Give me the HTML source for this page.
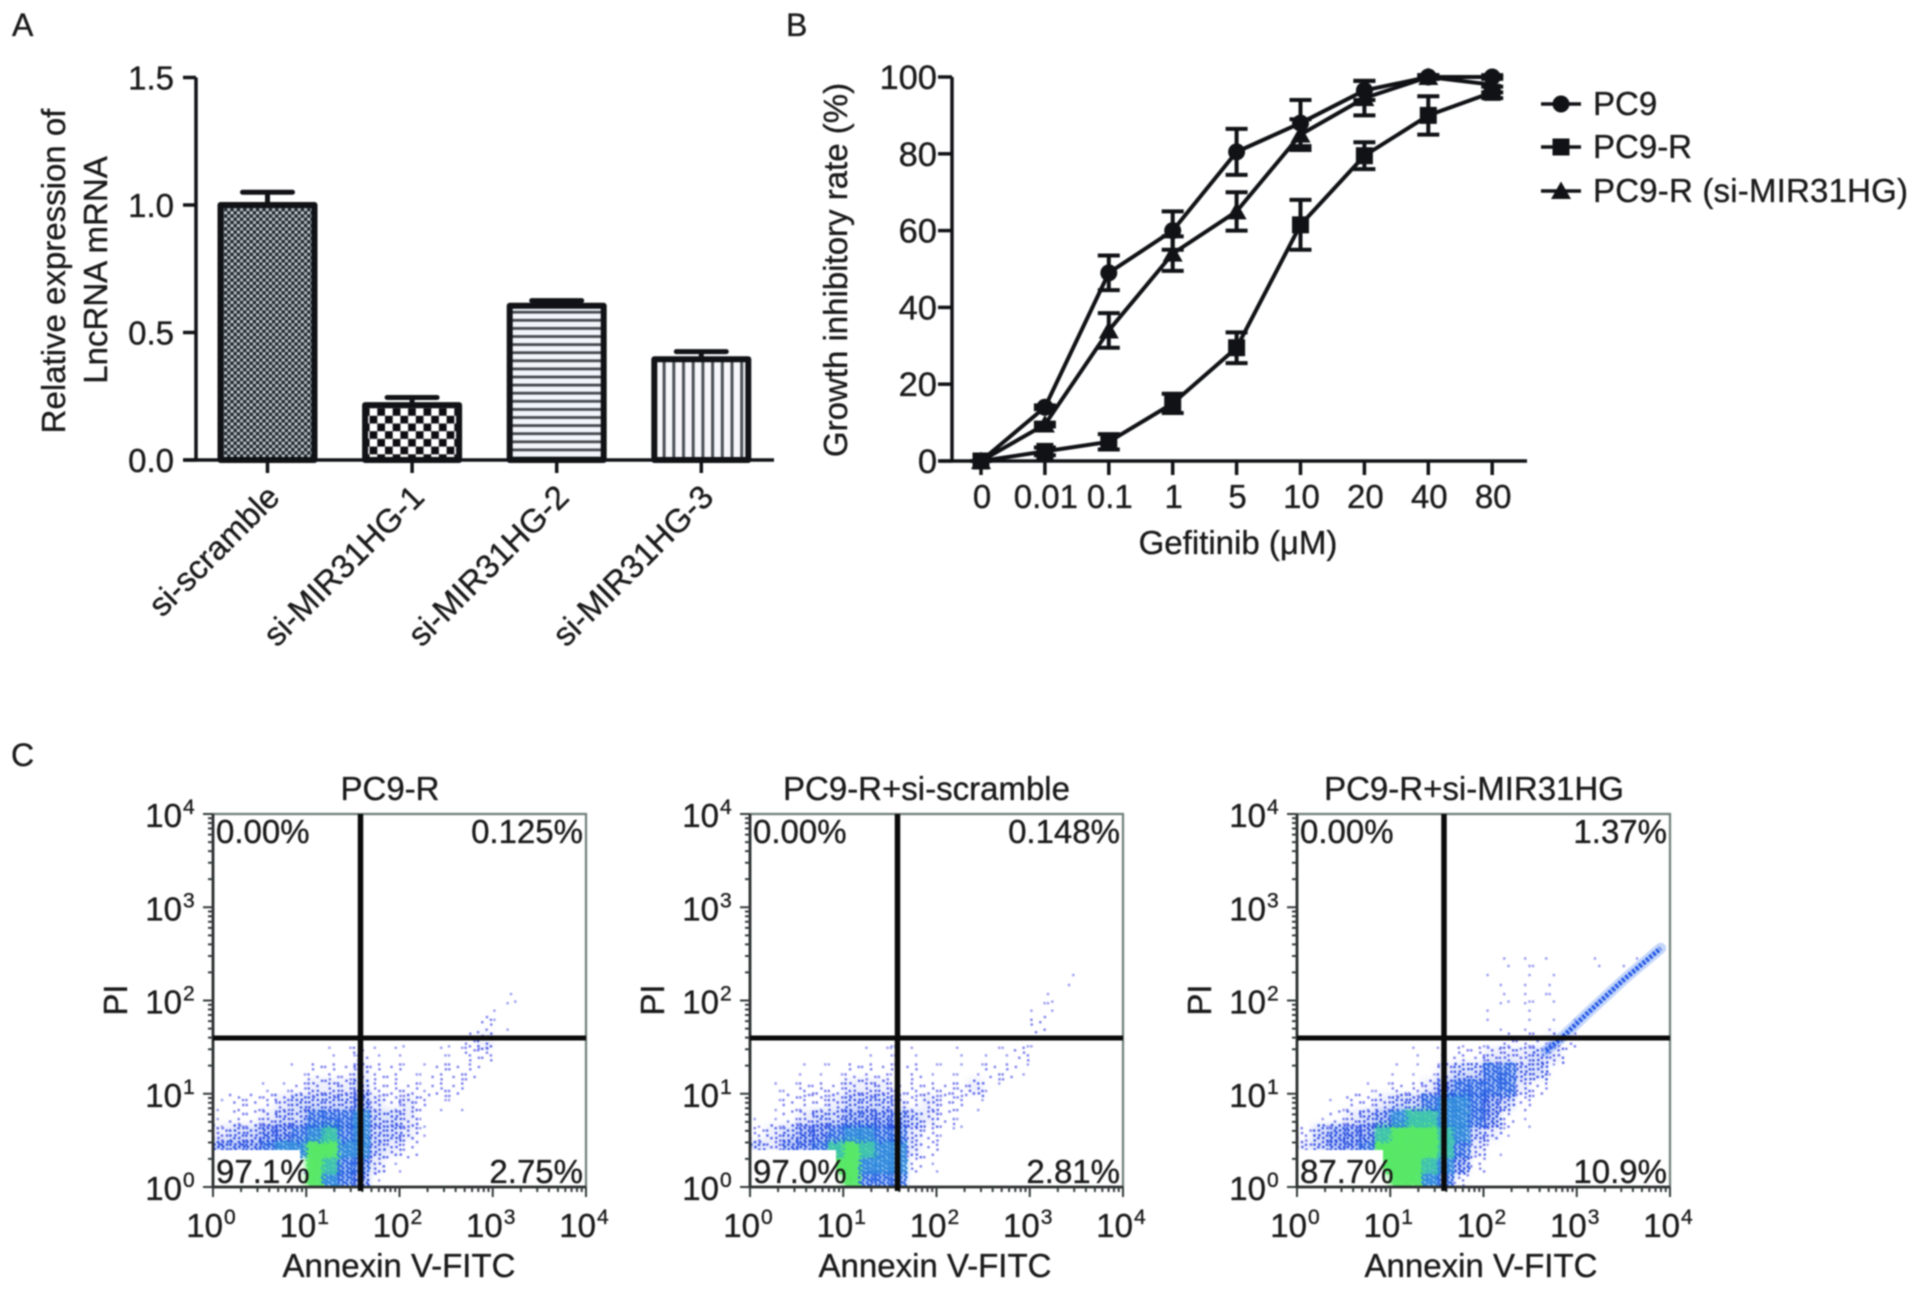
<!DOCTYPE html>
<html lang="en">
<head>
<meta charset="utf-8">
<title>Panels A, B and C</title>
<style>
html,body{margin:0;padding:0;background:#fff;width:1918px;height:1289px;overflow:hidden}
svg{display:block;filter:blur(.7px)}
text{font-family:"Liberation Sans",Arial,sans-serif;font-size:33px;fill:#1a1a1a;stroke:#1a1a1a;stroke-width:.35px}
</style>
</head>
<body>
<svg id="fig" xmlns="http://www.w3.org/2000/svg" width="1918" height="1289" viewBox="0 0 1918 1289">
<defs>
<filter id="soft-density" x="-10%" y="-10%" width="120%" height="120%"><feGaussianBlur stdDeviation="3.5"/></filter>
<pattern id="hatch-dots" patternUnits="userSpaceOnUse" width="6.4" height="6.4">
<rect width="6.4" height="6.4" fill="#535e64"/>
<circle cx="1.6" cy="1.6" r="1.4" fill="#d0d8da"/>
<circle cx="4.8" cy="4.8" r="1.4" fill="#c0c9cb"/>
<circle cx="4.8" cy="1.6" r="1.3" fill="#12181c"/>
<circle cx="1.6" cy="4.8" r="1.3" fill="#12181c"/>
</pattern>
<pattern id="hatch-check" patternUnits="userSpaceOnUse" width="15.4" height="15.4">
<rect width="15.4" height="15.4" fill="#fff"/>
<rect x="0" y="0" width="7.7" height="7.7" fill="#0e0e12"/>
<rect x="7.7" y="7.7" width="7.7" height="7.7" fill="#0e0e12"/>
</pattern>
<pattern id="hatch-horizontal" patternUnits="userSpaceOnUse" width="8" height="8.1">
<rect width="8" height="8.1" fill="#f2f5fa"/>
<rect y="3" width="8" height="2.8" fill="#454a50"/>
</pattern>
<pattern id="hatch-vertical" patternUnits="userSpaceOnUse" width="9.7" height="8">
<rect width="9.7" height="8" fill="#f5f7fa"/>
<rect x="3" width="3" height="8" fill="#4a4f56"/>
</pattern>
</defs>
<rect width="1918" height="1289" fill="#fff"/>

<text x="12" y="36" style="font-size:32px">A</text>
<text x="786" y="36" style="font-size:32px">B</text>
<text x="11" y="766" style="font-size:32px">C</text>

<g id="chartA">
<text transform="translate(65,271) rotate(-90)" text-anchor="middle">Relative expression of</text>
<text transform="translate(107,270) rotate(-90)" text-anchor="middle">LncRNA mRNA</text>
</g>

<g id="chartB">
<text transform="translate(847,270) rotate(-90)" text-anchor="middle">Growth inhibitory rate (%)</text>
<text x="1238" y="554" text-anchor="middle">Gefitinib (μM)</text>
</g>

<g id="chartC"></g>
</svg>

<script>
/* Panel A data */
const barCategories = ['si-scramble', 'si-MIR31HG-1', 'si-MIR31HG-2', 'si-MIR31HG-3'];
const barValues = [1.0, 0.215, 0.605, 0.395];
const barErrors = [0.05, 0.03, 0.02, 0.03];
const barTickLabels = ['0.0', '0.5', '1.0', '1.5'];
const barTickValues = [0, 0.5, 1.0, 1.5];
const barFills = ['hatch-dots', 'hatch-check', 'hatch-horizontal', 'hatch-vertical'];

/* Panel B data */
const doseLabels = ['0', '0.01', '0.1', '1', '5', '10', '20', '40', '80'];
const growthTicks = [0, 20, 40, 60, 80, 100];
const pc9Values = [0, 14, 49, 60, 80.5, 88, 96.5, 100, 100];
const pc9Errors = [0, 0.5, 4.5, 5, 6, 6, 2.5, 0.5, 0.5];
const pc9rValues = [0, 2.5, 5, 15, 29.5, 61.5, 79.5, 90, 96];
const pc9rErrors = [0, 1, 2, 2.5, 4, 6.5, 3.5, 5, 1.5];
const pc9rSiValues = [0, 9.5, 34, 54, 65, 85, 94.5, 100, 98];
const pc9rSiErrors = [0, 0.5, 4.5, 4.5, 5, 4, 4.5, 0.5, 2];
const legendLabels = ['PC9', 'PC9-R', 'PC9-R (si-MIR31HG)'];

/* Panel C data: density read per cell, rows start at the bottom, 6 cells per decade */
const panelTitles = ['PC9-R', 'PC9-R+si-scramble', 'PC9-R+si-MIR31HG'];
const decadeExponents = [0, 1, 2, 3, 4];
const quadrantUL = ['0.00%', '0.00%', '0.00%'];
const quadrantUR = ['0.125%', '0.148%', '1.37%'];
const quadrantLL = ['97.1%', '97.0%', '87.7%'];
const quadrantLR = ['2.75%', '2.81%', '10.9%'];
const densityPC9R = [
  [0,0,0,0,0,1,9,7,6,5,1],
  [0,0,0,0,0,0,9,8,6,6,3,1],
  [5,5,5,6,7,7,9,9,7,7,4,3,2],
  [3,4,4,5,5,6,7,8,6,7,4,4,3,1],
  [1,2,2,3,4,4,6,6,6,7,4,4,3,1],
  [1,2,2,2,3,4,4,4,4,5,3,2,3,2,1,1],
  [0,0,0,1,1,2,3,3,3,4,2,2,2,1,2,2],
  [0,0,0,0,0,1,2,2,2,3,2,2,1,1,2,2,2],
  [0,0,0,0,0,0,0,1,1,2,1,1,0,0,1,1,2,2],
  [0,0,0,0,0,0,0,0,0,0,0,0,1,0,0,1,2,3],
  [0,0,0,0,0,0,0,0,0,0,0,0,0,0,0,0,0,2,1],
  [0,0,0,0,0,0,0,0,0,0,0,0,0,0,0,0,0,0,1],
  [0,0,0,0,0,0,0,0,0,0,0,0,0,0,0,0,0,0,0,1]
];
const densityScramble = [
  [0,0,0,0,0,0,9,6,6,6],
  [0,0,0,0,0,9,9,7,7,7,2,1],
  [4,3,5,5,6,8,9,8,7,7,3,2],
  [2,3,4,5,5,6,7,7,6,6,3,2,1],
  [1,1,2,3,4,4,5,5,5,5,4,3,2,1],
  [0,1,2,2,2,3,4,4,4,3,2,3,2,2,1],
  [0,1,1,2,2,2,3,3,3,2,2,2,2,2,3,1],
  [0,0,0,1,1,1,2,2,2,1,2,1,1,1,1,2,2,1],
  [0,0,0,0,0,0,0,1,1,1,1,0,0,1,0,1,1,2],
  [0,0,0,0,0,0,0,0,1,1,0,0,0,0,0,0,0,1,1],
  [0,0,0,0,0,0,0,0,0,0,0,0,0,0,0,0,0,0,2],
  [0,0,0,0,0,0,0,0,0,0,0,0,0,0,0,0,0,0,1,1],
  [0,0,0,0,0,0,0,0,0,0,0,0,0,0,0,0,0,0,0,1],
  [0,0,0,0,0,0,0,0,0,0,0,0,0,0,0,0,0,0,0,0,1]
];
const densityKnockdown = [
  [0,0,0,0,0,0,9,9,7,6,2],
  [0,0,0,0,0,9,9,9,8,7,5,2],
  [3,4,5,5,6,9,9,9,9,8,6,3,1],
  [2,4,5,5,5,8,9,9,9,8,7,4,3,1],
  [0,1,2,3,4,5,7,8,8,7,7,6,5,2,1],
  [0,0,1,2,2,3,4,4,6,7,7,6,5,4,2],
  [0,0,0,0,1,1,2,2,3,5,6,6,6,6,3,2],
  [0,0,0,0,0,0,1,1,1,3,4,4,6,6,4,4,1],
  [0,0,0,0,0,0,0,1,0,1,2,2,3,3,3,4,3],
  [0,0,0,0,0,0,0,0,0,0,1,1,1,2,2,2,3,2],
  [0,0,0,0,0,0,0,0,0,0,0,0,1,0,1,0,1,1],
  [0,0,0,0,0,0,0,0,0,0,0,0,1,0,1],
  [0,0,0,0,0,0,0,0,0,0,0,0,0,1,1,1,1],
  [0,0,0,0,0,0,0,0,0,0,0,0,1,0,1,0,1],
  [0,0,0,0,0,0,0,0,0,0,0,0,0,1,1,1,0,0,0,1,0,1]
];
const panelDensities = [densityPC9R, densityScramble, densityKnockdown];
/* Narrow double-positive band in the knockdown panel, in decades */
const bandDecadeX = [2.67, 2.85, 3.1, 3.5, 3.9];
const bandDecadeY = [1.46, 1.61, 1.85, 2.22, 2.56];

const NS = 'http://www.w3.org/2000/svg';
function mk(parent, tag, attrs, text) {
  const el = document.createElementNS(NS, tag);
  for (const k in attrs) el.setAttribute(k, attrs[k]);
  if (text !== undefined) el.textContent = text;
  parent.appendChild(el);
  return el;
}
const INK = '#101215';

/* ---------- Panel A ---------- */
const gA = document.getElementById('chartA');
const yA = v => 460 - v * 255;
const xA = i => 267.5 + 144.6 * i;
const barHalf = 50;

barCategories.forEach((name, i) => {
  const left = xA(i) - barHalf + 3;
  const w = 2 * barHalf - 6;
  const top = yA(barValues[i]);
  const bar = mk(gA, 'rect', {x: left, y: top, width: w, height: yA(0) - top, fill: 'url(#' + barFills[i] + ')', stroke: INK, 'stroke-width': 6, 'stroke-linejoin': 'round'});
  
  
  const capY = yA(barValues[i] + barErrors[i]);
  const err = mk(gA, 'path', {d: 'M' + xA(i) + ' ' + top + 'V' + capY + 'M' + (xA(i) - 25) + ' ' + capY + 'H' + (xA(i) + 25), fill: 'none', stroke: INK, 'stroke-width': 5, 'stroke-linecap': 'round'});
  
  
  const tick = mk(gA, 'line', {x1: xA(i), x2: xA(i), y1: yA(0), y2: 473, stroke: INK, 'stroke-width': 3.5});
  
  
  const label = mk(gA, 'text', {transform: 'translate(' + (xA(i) + 14) + ',499) rotate(-45)', 'text-anchor': 'end'}, name);
  
  
});
const axisAy = mk(gA, 'path', {d: 'M196 ' + yA(1.5) + 'V' + yA(0) + 'M184 ' + yA(0) + 'H774', fill: 'none', stroke: INK, 'stroke-width': 3.5});


barTickValues.forEach((v, i) => {
  const t = mk(gA, 'line', {x1: 183, x2: 196, y1: yA(v), y2: yA(v), stroke: INK, 'stroke-width': 3.5});
  
  
  const l = mk(gA, 'text', {x: 174, y: yA(v) + 12, 'text-anchor': 'end'}, barTickLabels[i]);
  
  
});

/* ---------- Panel B ---------- */
const gB = document.getElementById('chartB');
const yB = v => 461 - 3.84 * v;
const xB = i => 981 + 63.9 * i;

function marker(parent, kind, x, y) {
  let el;
  if (kind === 'circle') {
    el = mk(parent, 'circle', {cx: x, cy: y, r: 8.5, fill: INK});
  } else if (kind === 'square') {
    el = mk(parent, 'rect', {x: x - 8.5, y: y - 8.5, width: 17, height: 17, fill: INK});
  } else {
    el = mk(parent, 'path', {d: 'M' + x + ' ' + (y - 9.5) + 'L' + (x + 10) + ' ' + (y + 8) + 'H' + (x - 10) + 'Z', fill: INK});
  }
  return el;
}
function drawSeries(name, kind, values, errors) {
  const g = mk(gB, 'g', {});
  
  
  const line = mk(g, 'polyline', {points: values.map((v, i) => xB(i) + ',' + yB(v)).join(' '), fill: 'none', stroke: INK, 'stroke-width': 4, 'stroke-linejoin': 'round'});
  
  
  values.forEach((v, i) => {
    const up = yB(Math.min(v + errors[i], 101));
    const dn = yB(v - errors[i]);
    const e = mk(g, 'path', {d: 'M' + xB(i) + ' ' + up + 'V' + dn + 'M' + (xB(i) - 11) + ' ' + up + 'H' + (xB(i) + 11) + 'M' + (xB(i) - 11) + ' ' + dn + 'H' + (xB(i) + 11), fill: 'none', stroke: INK, 'stroke-width': 4});
    
    
    const m = marker(g, kind, xB(i), yB(v));
    
    
  });
}
drawSeries('pc9-r-si', 'triangle', pc9rSiValues, pc9rSiErrors);
drawSeries('pc9-r', 'square', pc9rValues, pc9rErrors);
drawSeries('pc9', 'circle', pc9Values, pc9Errors);

const axisB = mk(gB, 'path', {d: 'M952 ' + yB(100) + 'V' + yB(0) + 'M940 ' + yB(0) + 'H1527', fill: 'none', stroke: INK, 'stroke-width': 3.5});


growthTicks.forEach(v => {
  const t = mk(gB, 'line', {x1: 938, x2: 952, y1: yB(v), y2: yB(v), stroke: INK, 'stroke-width': 3.5});
  
  
  const l = mk(gB, 'text', {x: 937, y: yB(v) + 12, 'text-anchor': 'end', style: 'font-size:34.5px'}, String(v));
  
  
});
doseLabels.forEach((s, i) => {
  const t = mk(gB, 'line', {x1: xB(i), x2: xB(i), y1: yB(0), y2: 475, stroke: INK, 'stroke-width': 3.5});
  
  
  const l = mk(gB, 'text', {x: xB(i) + 1, y: 508, 'text-anchor': 'middle'}, s);
  
  
});
const legendKinds = ['circle', 'square', 'triangle'];
const legendRows = [104, 147, 191];
legendLabels.forEach((s, i) => {
  const g = mk(gB, 'g', {});
  
  
  const ln = mk(g, 'line', {x1: 1541, x2: 1581, y1: legendRows[i], y2: legendRows[i], stroke: INK, 'stroke-width': 3.5});
  
  
  const m = marker(g, legendKinds[i], 1561, legendRows[i]);
  
  
  const t = mk(g, 'text', {x: 1593, y: legendRows[i] + 11, textLength: i === 2 ? 315 : null}, s);
  if (i !== 2) t.removeAttribute('textLength');
  
  
});

/* ---------- Panel C ---------- */
const gC = document.getElementById('chartC');
const plotTop = 814, plotBottom = 1187, plotSize = 373;
const decade = plotSize / 4;
const lefts = [213, 750, 1297];
const vlines = [360.5, 897.5, 1444];
const titleCenters = [390, 926.5, 1474];
const annexinCenters = [400, 936, 1482];
const boxRights = [300, 836, 1383];
const hlineY = 1038;
const cell = plotSize / 24;
const dotCounts = [0, 2, 6, 10, 15, 22, 30, 36, 40, 44];
const dotColors = ['', '#9a9cf2', '#7c80ee', '#5c68ea', '#3f58e6', '#2c50e0', '#2a62e2', '#2f86dc', '#3cc0b0', '#58e868'];
const cellTints = {3: ['#a8b4f6', .2], 4: ['#8fa4f4', .3], 5: ['#6d8cf0', .45], 6: ['#5a90ee', .6], 7: ['#4aa0e4', .8], 8: ['#4cd0a0', .95], 9: ['#56ea5e', 1]};
const frac = v => v - Math.floor(v);

panelTitles.forEach((title, p) => {
  const L = lefts[p];
  const g = mk(gC, 'g', {});
  
  

  const tintLayer = mk(g, 'g', {filter: 'url(#soft-density)'});
  
  
  const dotLayer = mk(g, 'g', {});
  
  

  panelDensities[p].forEach((row, r) => {
    row.forEach((v, c) => {
      if (!v) return;
      const cx = L + c * cell;
      const cy = plotBottom - (r + 1) * cell;
      if (cellTints[v]) {
        const bg = mk(tintLayer, 'rect', {x: cx, y: cy, width: cell + .3, height: cell + .3, fill: cellTints[v][0], opacity: cellTints[v][1]});
        
        
      }
      let d = '';
      for (let k = 0; k < dotCounts[v]; k++) {
        const dx = frac(.5 + k * .7549 + c * .31) * (cell + 2) - 1;
        const dy = frac(.5 + k * .5698 + r * .37) * (cell + 2) - 1;
        d += 'M' + (cx + dx).toFixed(1) + ' ' + (cy + dy).toFixed(1) + 'h2.4v2.4h-2.4z';
      }
      const dots = mk(dotLayer, 'path', {d: d, fill: dotColors[v]});
      
      
    });
  });

  if (p === 2) {
    const pts = bandDecadeX.map((x, i) => (L + x * decade) + ',' + (plotBottom - bandDecadeY[i] * decade)).join(' ');
    const under = mk(g, 'polyline', {points: pts, fill: 'none', stroke: '#7fa6f4', 'stroke-width': 11, opacity: .45, 'stroke-linecap': 'round'});
    
    
    const band = mk(g, 'polyline', {points: pts, fill: 'none', stroke: '#2a5ee8', 'stroke-width': 5, 'stroke-dasharray': '3 1.5'});
    
    
  }

  const box = mk(g, 'rect', {x: L - 2, y: 1150, width: boxRights[p] - L + 2, height: plotBottom - 1150 + 8, fill: '#fff'});
  
  
  const mask = mk(g, 'rect', {x: L - 2, y: plotBottom, width: plotSize + 4, height: 10, fill: '#fff'});
  
  
  const maskL = mk(g, 'rect', {x: L - 12, y: plotTop, width: 11, height: plotSize + 4, fill: '#fff'});
  
  

  const frameTR = mk(g, 'path', {d: 'M' + L + ' ' + plotTop + 'H' + (L + plotSize) + 'V' + plotBottom, fill: 'none', stroke: '#6f7f78', 'stroke-width': 2.2});
  
  
  const frameLB = mk(g, 'path', {d: 'M' + L + ' ' + plotTop + 'V' + plotBottom + 'H' + (L + plotSize), fill: 'none', stroke: '#2a2e2e', 'stroke-width': 2.8});
  
  

  let tickPath = '';
  decadeExponents.forEach(e => {
    const px = L + e * decade;
    const py = plotBottom - e * decade;
    tickPath += 'M' + px + ' ' + plotBottom + 'v10M' + L + ' ' + py + 'h-10';
    if (e < 4) {
      for (let m = 2; m < 10; m++) {
        const off = Math.log10(m) * decade;
        tickPath += 'M' + (px + off) + ' ' + plotBottom + 'v5M' + L + ' ' + (py - off) + 'h-5';
      }
    }
  });
  const ticks = mk(g, 'path', {d: tickPath, fill: 'none', stroke: '#333a3a', 'stroke-width': 2});
  
  

  const gateH = mk(g, 'line', {x1: L, x2: L + plotSize, y1: hlineY, y2: hlineY, stroke: '#0a0a0a', 'stroke-width': 5});
  
  
  const gateV = mk(g, 'line', {x1: vlines[p], x2: vlines[p], y1: plotTop, y2: plotBottom + 4, stroke: '#0a0a0a', 'stroke-width': 5.5});
  
  

  decadeExponents.forEach(e => {
    const py = plotBottom - e * decade;
    const px = L + e * decade;
    const yBase = mk(g, 'text', {x: L - 31, y: py + 13, 'text-anchor': 'end'}, '10');
    
    
    const yExp = mk(g, 'text', {x: L - 30, y: py, style: 'font-size:21px'}, String(e));
    
    
    const xBase = mk(g, 'text', {x: px + 10, y: 1237, 'text-anchor': 'end'}, '10');
    
    
    const xExp = mk(g, 'text', {x: px + 11, y: 1224, style: 'font-size:21px'}, String(e));
    
    
  });

  const tTitle = mk(g, 'text', {x: titleCenters[p], y: 800, 'text-anchor': 'middle'}, title);
  
  
  const tX = mk(g, 'text', {x: annexinCenters[p] - 1, y: 1277, 'text-anchor': 'middle'}, 'Annexin V-FITC');
  
  
  const tY = mk(g, 'text', {transform: 'translate(' + (L - 86) + ',1000) rotate(-90)', 'text-anchor': 'middle'}, 'PI');
  
  

  const qUL = mk(g, 'text', {x: L + 3, y: 843}, quadrantUL[p]);
  
  
  const qUR = mk(g, 'text', {x: L + plotSize - 3, y: 843, 'text-anchor': 'end'}, quadrantUR[p]);
  
  
  const qLL = mk(g, 'text', {x: L + 3, y: 1183}, quadrantLL[p]);
  
  
  const qLR = mk(g, 'text', {x: L + plotSize - 3, y: 1183, 'text-anchor': 'end'}, quadrantLR[p]);
  
  
});
</script>
</body>
</html>
